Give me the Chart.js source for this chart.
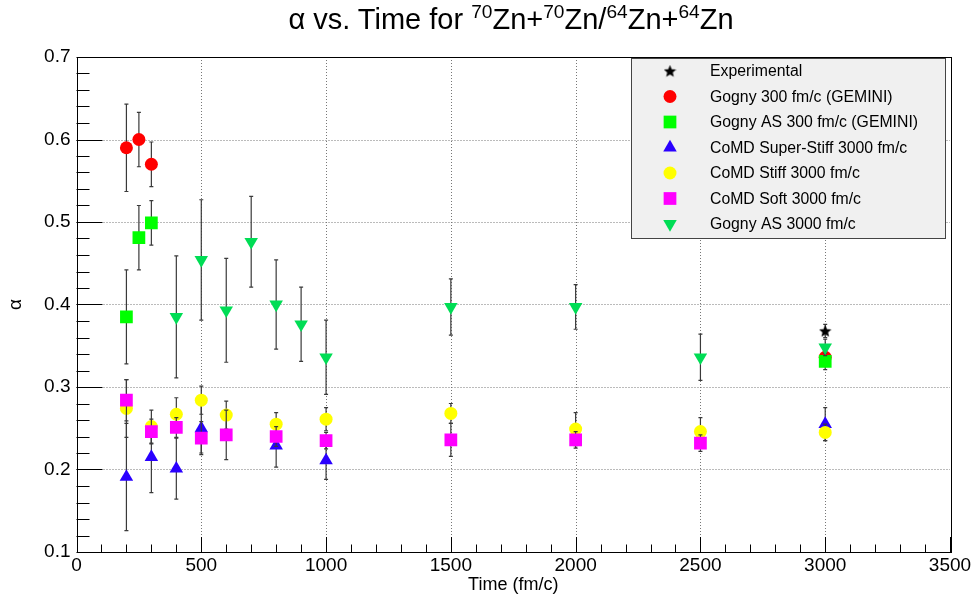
<!DOCTYPE html>
<html>
<head>
<meta charset="utf-8">
<title>alpha vs time</title>
<script src="https://cdn.jsdelivr.net/npm/chart.js@4/dist/chart.umd.min.js"></script>
<style>
  body { margin: 0; background: #fff; }
  #wrap { position: relative; width: 975px; height: 598px; }
  #title {
    position: absolute; top: 1px; left: 511px; transform: translateX(-50%);
    white-space: nowrap; font-family: "Liberation Sans", Arial, sans-serif;
    font-size: 29px; color: #000;
  }
  #title sup { font-size: 0.66em; position: relative; top: -0.02em; }
</style>
</head>
<body>
<div id="wrap">
  <canvas id="alphaChart" width="975" height="598"></canvas>
  <div id="title">&alpha; vs. Time for <sup>70</sup>Zn+<sup>70</sup>Zn/<sup>64</sup>Zn+<sup>64</sup>Zn</div>
</div>
<script>
// alpha values (with errors) for each model, time in fm/c
const expTime = [3000];
const expAlpha = [0.368];
const expErr = [0.008];

const gogny300Time = [200, 250, 300, 3000];
const gogny300Alpha = [0.590, 0.600, 0.570, 0.336];
const gogny300Err = [0.053, 0.033, 0.027, 0.010];

const gognyAS300Time = [200, 250, 300, 3000];
const gognyAS300Alpha = [0.385, 0.481, 0.499, 0.331];
const gognyAS300Err = [0.057, 0.039, 0.027, 0.010];

const superStiffTime = [200, 300, 400, 500, 800, 1000, 3000];
const superStiffAlpha = [0.191, 0.215, 0.201, 0.250, 0.229, 0.211, 0.255];
const superStiffErr = [0.065, 0.043, 0.037, 0.030, 0.026, 0.023, 0.020];

const stiffTime = [200, 300, 400, 500, 600, 800, 1000, 1500, 2000, 2500, 3000];
const stiffAlpha = [0.274, 0.252, 0.267, 0.284, 0.266, 0.255, 0.261, 0.268, 0.249, 0.246, 0.245];
const stiffErr = [0.035, 0.020, 0.020, 0.017, 0.017, 0.014, 0.014, 0.012, 0.020, 0.017, 0.010];

const softTime = [200, 300, 400, 500, 600, 800, 1000, 1500, 2000, 2500];
const softAlpha = [0.284, 0.246, 0.251, 0.238, 0.242, 0.240, 0.235, 0.236, 0.236, 0.232];
const softErr = [0.025, 0.015, 0.012, 0.020, 0.030, 0.012, 0.010, 0.020, 0.010, 0.010];

const gognyAS3000Time = [400, 500, 600, 700, 800, 900, 1000, 1500, 2000, 2500, 3000];
const gognyAS3000Alpha = [0.385, 0.454, 0.393, 0.476, 0.400, 0.376, 0.336, 0.397, 0.397, 0.336, 0.348];
const gognyAS3000Err = [0.074, 0.073, 0.063, 0.055, 0.054, 0.045, 0.045, 0.034, 0.027, 0.028, 0.010];

const xTicks = [0, 500, 1000, 1500, 2000, 2500, 3000, 3500];
const yTicks = [0.1, 0.2, 0.3, 0.4, 0.5, 0.6, 0.7];

const FONT = '"Liberation Sans", Arial, sans-serif';

// filled five point star, used as point image
function makeStar(size){
  const c = document.createElement('canvas');
  c.width = size; c.height = size;
  const g = c.getContext('2d');
  const cx = size/2, cy = size/2 + 0.5, ro = size/2, ri = ro*0.45;
  g.beginPath();
  for(let i = 0; i < 10; i++){
    const r = i % 2 ? ri : ro;
    const a = -Math.PI/2 + i*Math.PI/5;
    g.lineTo(cx + r*Math.cos(a), cy + r*Math.sin(a));
  }
  g.closePath();
  g.fillStyle = '#000';
  g.fill();
  return c;
}
const star = makeStar(13);

function pts(xs, ys){ return xs.map((x, i) => ({x: x, y: ys[i]})); }

const series = [
  {label: 'Experimental', t: expTime, a: expAlpha, e: expErr, color: '#000', style: star, r: 6, rot: 0},
  {label: 'Gogny 300 fm/c (GEMINI)', t: gogny300Time, a: gogny300Alpha, e: gogny300Err, color: '#ff0000', style: 'circle', r: 6.5, rot: 0},
  {label: 'Gogny AS 300 fm/c (GEMINI)', t: gognyAS300Time, a: gognyAS300Alpha, e: gognyAS300Err, color: '#00ff00', style: 'rect', r: 9, rot: 0},
  {label: 'CoMD Super-Stiff 3000 fm/c', t: superStiffTime, a: superStiffAlpha, e: superStiffErr, color: '#2a00ff', style: 'triangle', r: 7.8, rot: 0},
  {label: 'CoMD Stiff 3000 fm/c', t: stiffTime, a: stiffAlpha, e: stiffErr, color: '#ffff00', style: 'circle', r: 6.5, rot: 0},
  {label: 'CoMD Soft 3000 fm/c', t: softTime, a: softAlpha, e: softErr, color: '#ff00ff', style: 'rect', r: 9, rot: 0},
  {label: 'Gogny AS 3000 fm/c', t: gognyAS3000Time, a: gognyAS3000Alpha, e: gognyAS3000Err, color: '#00dd55', style: 'triangle', r: 7.8, rot: 180}
];

// error bars drawn just before each dataset so later ones sit on top
const errorBars = {
  id: 'errorBars',
  beforeDatasetDraw(chart, args){
    const s = series[args.index];
    const y = chart.scales.y;
    const ctx = chart.ctx;
    ctx.save();
    ctx.strokeStyle = '#3a3a3a';
    ctx.lineWidth = 1.2;
    args.meta.data.forEach((p, i) => {
      const top = y.getPixelForValue(s.a[i] + s.e[i]);
      const bot = y.getPixelForValue(s.a[i] - s.e[i]);
      ctx.beginPath();
      ctx.moveTo(p.x, top); ctx.lineTo(p.x, bot);
      ctx.moveTo(p.x - 2, top); ctx.lineTo(p.x + 2, top);
      ctx.moveTo(p.x - 2, bot); ctx.lineTo(p.x + 2, bot);
      ctx.stroke();
    });
    ctx.restore();
  }
};

// dotted grid, frame and inward ticks
const frame = {
  id: 'frame',
  beforeDatasetsDraw(chart){
    const {ctx, chartArea: a, scales: {x, y}} = chart;
    ctx.save();
    ctx.strokeStyle = '#777';
    ctx.lineWidth = 1;
    ctx.setLineDash([1, 2]);
    xTicks.slice(1, -1).forEach(v => {
      const px = Math.round(x.getPixelForValue(v)) + 0.5;
      ctx.beginPath(); ctx.moveTo(px, a.top); ctx.lineTo(px, a.bottom); ctx.stroke();
    });
    yTicks.slice(1, -1).forEach(v => {
      const py = Math.round(y.getPixelForValue(v)) + 0.5;
      ctx.beginPath(); ctx.moveTo(a.left, py); ctx.lineTo(a.right, py); ctx.stroke();
    });
    ctx.setLineDash([]);
    ctx.strokeStyle = '#000';
    ctx.strokeRect(Math.round(a.left) + 0.5, Math.round(a.top) + 0.5,
      Math.round(a.right - a.left), Math.round(a.bottom - a.top));
    ctx.beginPath();
    for(let v = 0; v <= 3500; v += 100){
      const px = Math.round(x.getPixelForValue(v)) + 0.5;
      const len = v % 500 === 0 ? 15 : 7.5;
      ctx.moveTo(px, a.bottom); ctx.lineTo(px, a.bottom - len);
    }
    for(let k = 5; k <= 35; k++){
      const py = Math.round(y.getPixelForValue(k*0.02)) + 0.5;
      const len = k % 5 === 0 ? 26 : 13;
      ctx.moveTo(a.left, py); ctx.lineTo(a.left + len, py);
    }
    ctx.stroke();
    ctx.restore();
  }
};

const legendBox = {
  id: 'legendBox',
  afterDraw(chart){
    const ctx = chart.ctx;
    const bx = 631.5, by = 58.5, bw = 314, bh = 180;
    ctx.save();
    ctx.fillStyle = '#f0f0f0';
    ctx.fillRect(bx, by, bw, bh);
    ctx.strokeStyle = '#444';
    ctx.lineWidth = 1;
    ctx.strokeRect(bx, by, bw, bh);
    ctx.font = '15.8px ' + FONT;
    ctx.textBaseline = 'middle';
    series.forEach((s, i) => {
      const cy = 71 + i*25.5;
      ctx.fillStyle = s.color;
      ctx.strokeStyle = s.color;
      Chart.helpers.drawPoint(ctx, {pointStyle: s.style, radius: s.r, rotation: s.rot, borderWidth: 0}, 670, cy);
      ctx.fillStyle = '#000';
      ctx.fillText(s.label, 710, cy + 1);
    });
    ctx.restore();
  }
};

new Chart(document.getElementById('alphaChart'), {
  type: 'scatter',
  data: {
    datasets: series.map((s, i) => ({
      label: s.label,
      data: pts(s.t, s.a),
      pointStyle: s.style,
      pointRadius: s.r,
      pointRotation: s.rot,
      pointBackgroundColor: s.color,
      pointBorderColor: s.color,
      pointBorderWidth: 0,
      order: series.length - 1 - i
    }))
  },
  options: {
    responsive: false,
    animation: false,
    layout: {padding: {left: 0, top: 57, right: 25, bottom: 0}},
    plugins: {legend: {display: false}, tooltip: {enabled: false}},
    scales: {
      x: {
        type: 'linear', min: 0, max: 3500,
        afterBuildTicks(scale){ scale.ticks = xTicks.map(v => ({value: v})); },
        afterFit(scale){ scale.height = 46; },
        grid: {display: false, drawTicks: false},
        border: {display: false},
        ticks: {color: '#000', font: {family: FONT, size: 19}, padding: 2, maxRotation: 0, callback: v => String(v)},
        title: {display: true, text: 'Time (fm/c)', color: '#000', font: {family: FONT, size: 18}, padding: {top: 0, bottom: 2}}
      },
      y: {
        type: 'linear', min: 0.1, max: 0.7,
        afterBuildTicks(scale){ scale.ticks = yTicks.map(v => ({value: v})); },
        afterFit(scale){ scale.width = 76.5; },
        grid: {display: false, drawTicks: false},
        border: {display: false},
        ticks: {color: '#000', font: {family: FONT, size: 19}, padding: 6, callback: v => v.toFixed(1)},
        title: {display: true, text: 'α', color: '#000', font: {family: FONT, size: 19}, padding: {top: 4, bottom: 0}}
      }
    }
  },
  plugins: [frame, errorBars, legendBox]
});
</script>
</body>
</html>
